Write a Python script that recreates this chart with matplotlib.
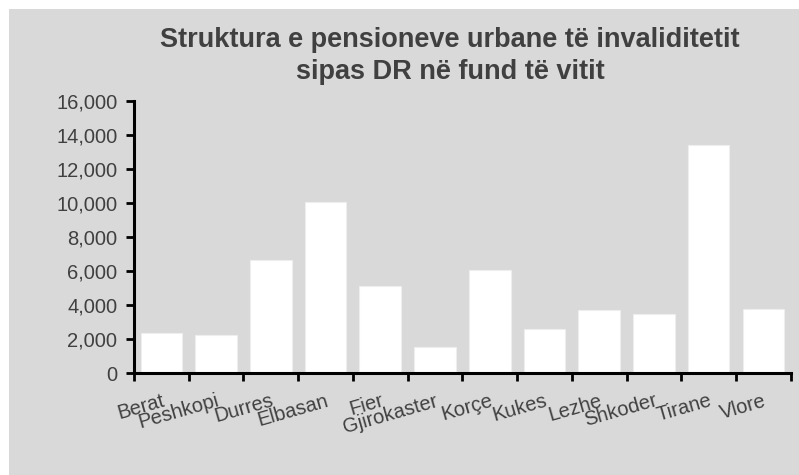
import matplotlib.pyplot as plt
from matplotlib.patches import Rectangle
from matplotlib.ticker import FuncFormatter, FixedLocator

# pensione urbane te invaliditetit sipas DR
districts = ["Berat", "Peshkopi", "Durres", "Elbasan", "Fier", "Gjirokaster",
             "Korçe", "Kukes", "Lezhe", "Shkoder", "Tirane", "Vlore"]
pensions = [2350, 2230, 6630, 10050, 5120, 1540,
            6040, 2600, 3730, 3460, 13380, 3790]
yticks = [0, 2000, 4000, 6000, 8000, 10000, 12000, 14000, 16000]
title = "Struktura e pensioneve urbane të invaliditetit\nsipas DR në fund të vitit"

plt.rcParams['font.family'] = ['Liberation Sans', 'DejaVu Sans']
txt = '#404040'

fig = plt.figure(figsize=(7.99, 4.75), dpi=100)
fig.patch.set_facecolor('white')
# grey chart area, slightly inset from top/left
fig.patches.append(Rectangle((9 / 799, 0), 1, 466 / 475, transform=fig.transFigure,
                             facecolor='#d9d9d9', edgecolor='none', zorder=-10))

ax = fig.add_axes([134 / 799, 1 - 373.3 / 475, (790.7 - 134) / 799, 272.6 / 475])
ax.patch.set_alpha(0)

x = range(len(districts))
ax.bar(x, pensions, width=0.76, color='white', edgecolor='#eeeeee', linewidth=0.8)

ax.set_xlim(-0.5, len(districts) - 0.5)
ax.set_ylim(0, 16000)
ax.set_yticks(yticks)
ax.yaxis.set_major_formatter(FuncFormatter(lambda v, p: f"{int(v):,}"))

# ticks between categories, labels at centres
ax.xaxis.set_major_locator(FixedLocator([i - 0.5 for i in range(len(districts) + 1)]))
ax.xaxis.set_minor_locator(FixedLocator(list(x)))
ax.set_xticklabels([], minor=False)
ax.set_xticklabels(districts, minor=True, rotation=16, ha='right', va='top',
                   rotation_mode='anchor', fontsize=14.5, color=txt)
ax.tick_params(axis='x', which='minor', length=0, pad=13)
ax.tick_params(axis='both', which='major', direction='out', length=6, width=2, color='black')
ax.tick_params(axis='y', labelsize=14.5, labelcolor=txt, pad=6)

for s in ['top', 'right']:
    ax.spines[s].set_visible(False)
for s in ['left', 'bottom']:
    ax.spines[s].set_linewidth(2.2)
    ax.spines[s].set_color('black')

fig.text(450 / 799, 1 - 27 / 475, title, ha='center', va='top', fontsize=19.5,
         fontweight='bold', color=txt, linespacing=1.32)

fig.savefig('out.png', dpi=100)
